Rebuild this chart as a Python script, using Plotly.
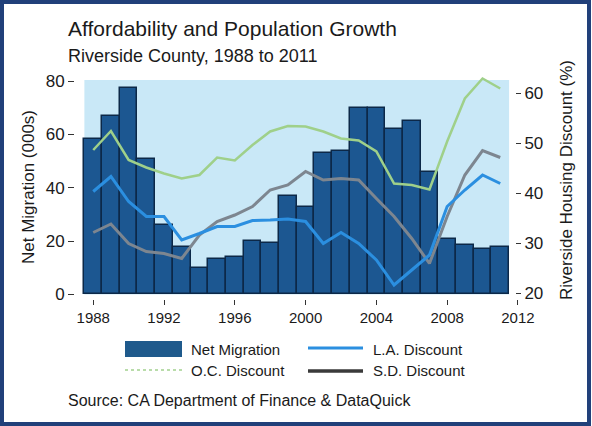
import plotly.graph_objects as go

# ---- data -------------------------------------------------------------
years = list(range(1988, 2012))
net_migration = [58.5, 67, 77.5, 51, 26, 18, 10, 13.5, 14, 20, 19.5, 37,
                 33, 53, 54, 70, 70, 62, 65, 46, 21, 18.5, 17, 18]
oc_discount = [48.7, 52.5, 46.7, 45.2, 44.0, 43.0, 43.7, 47.2, 46.6, 49.7, 52.4, 53.5,
               53.4, 52.4, 51.0, 50.6, 48.4, 42.0, 41.7, 40.8, 50.4, 59.0, 63.0, 61.0]
la_discount = [40.4, 43.4, 38.4, 35.4, 35.4, 30.7, 32.0, 33.4, 33.4, 34.6, 34.7, 34.9,
               34.4, 30.0, 32.2, 30.0, 26.7, 21.7, 24.7, 27.7, 37.4, 40.7, 43.7, 42.0]
sd_discount = [32.2, 33.9, 30.0, 28.4, 28.0, 27.0, 31.7, 34.4, 35.7, 37.4, 40.7, 41.7,
               44.4, 42.7, 43.0, 42.7, 39.0, 35.4, 31.0, 26.0, 35.4, 43.7, 48.6, 47.2]
x_ticks = [1988, 1992, 1996, 2000, 2004, 2008, 2012]
left_ticks = [0, 20, 40, 60, 80]
right_ticks = [20, 30, 40, 50, 60]

# ---- page geometry (pixels) -------------------------------------------
W, H = 592, 426
L, R, T, B = 75, 519, 74, 299
FONT = "Liberation Sans, Arial, Helvetica, sans-serif"
INK = "#1a1a1a"


def px(x):
    return (x - L) / (R - L)


def py(y):
    return (B - y) / (B - T)


BAR_FILL = "#1c5791"
BAR_EDGE = "#0c2848"
OC_COL = "#9fd08a"
LA_COL = "#2b8fe0"
SD_COL = "#7d8690"

fig = go.Figure()

fig.add_trace(go.Bar(x=years, y=net_migration, width=1.0,
                     marker=dict(color=BAR_FILL, line=dict(color=BAR_EDGE, width=1.5)),
                     showlegend=False))
fig.add_trace(go.Scatter(x=years, y=oc_discount, yaxis="y2", mode="lines",
                         line=dict(color=OC_COL, width=2.5), showlegend=False))
fig.add_trace(go.Scatter(x=years, y=sd_discount, yaxis="y2", mode="lines",
                         line=dict(color=SD_COL, width=3), showlegend=False))
fig.add_trace(go.Scatter(x=years, y=la_discount, yaxis="y2", mode="lines",
                         line=dict(color=LA_COL, width=3), showlegend=False))

shapes = [
    # light blue panel behind the bars
    dict(type="rect", xref="x", yref="y", x0=1987.5, x1=2011.5, y0=0, y1=80.45,
         fillcolor="#c9e8f7", line=dict(width=0), layer="below"),
    # outer frame
    dict(type="rect", xref="paper", yref="paper", x0=px(2), x1=px(589), y0=py(2), y1=py(424),
         fillcolor="rgba(0,0,0,0)", line=dict(color="#21407a", width=4)),
    # legend swatches
    dict(type="rect", xref="paper", yref="paper", x0=px(125), x1=px(182), y0=py(341), y1=py(357),
         fillcolor="#1f5a8c", line=dict(width=0)),
    dict(type="line", xref="paper", yref="paper", x0=px(308), x1=px(363), y0=py(348), y1=py(348),
         line=dict(color=LA_COL, width=3)),
    dict(type="line", xref="paper", yref="paper", x0=px(125), x1=px(182), y0=py(370), y1=py(370),
         line=dict(color="#b9dcaa", width=2, dash="dot")),
    dict(type="line", xref="paper", yref="paper", x0=px(308), x1=px(363), y0=py(371), y1=py(371),
         line=dict(color="#3a3a3a", width=3.5)),
]


def label(text, x, y, size, xanchor="left", angle=0):
    return dict(text=text, xref="paper", yref="paper", x=px(x), y=py(y),
                xanchor=xanchor, yanchor="middle", showarrow=False, textangle=angle,
                font=dict(family=FONT, size=size, color=INK))


annotations = [
    label("Affordability and Population Growth", 66, 28, 21),
    label("Riverside County, 1988 to 2011", 66, 56, 18),
    label("Net Migration (000s)", 28, 187, 17, xanchor="center", angle=-90),
    label("Riverside Housing Discount (%)", 566, 180, 17, xanchor="center", angle=-90),
    label("Net Migration", 189, 349, 15),
    label("L.A. Discount", 371, 349, 15),
    label("O.C. Discount", 189, 370, 15),
    label("S.D. Discount", 371, 370, 15),
    label("Source: CA Department of Finance & DataQuick", 66, 400, 16),
]

fig.update_layout(
    width=W, height=H,
    margin=dict(l=L, r=W - R, t=T, b=H - B, pad=0),
    paper_bgcolor="white", plot_bgcolor="rgba(0,0,0,0)",
    font=dict(family=FONT, color=INK),
    bargap=0, showlegend=False,
    shapes=shapes, annotations=annotations,
    xaxis=dict(range=[1986.97, 2012.06], tickvals=x_ticks, ticks="outside", ticklen=5,
               tickcolor="#333", showgrid=False, zeroline=False, showline=False,
               tickfont=dict(size=15, family=FONT, color=INK)),
    yaxis=dict(range=[-1.69, 82.7], tickvals=left_ticks, ticks="outside", ticklen=6,
               tickcolor="#333", showgrid=False, zeroline=False, showline=False,
               tickfont=dict(size=17, family=FONT, color=INK)),
    yaxis2=dict(range=[18.9, 63.9], tickvals=right_ticks, overlaying="y", side="right",
                anchor="free", position=px(515), ticks="outside", ticklen=5,
                tickcolor="#333", showgrid=False, zeroline=False, showline=False,
                tickfont=dict(size=17, family=FONT, color=INK)),
)

fig.write_html("out.html")
